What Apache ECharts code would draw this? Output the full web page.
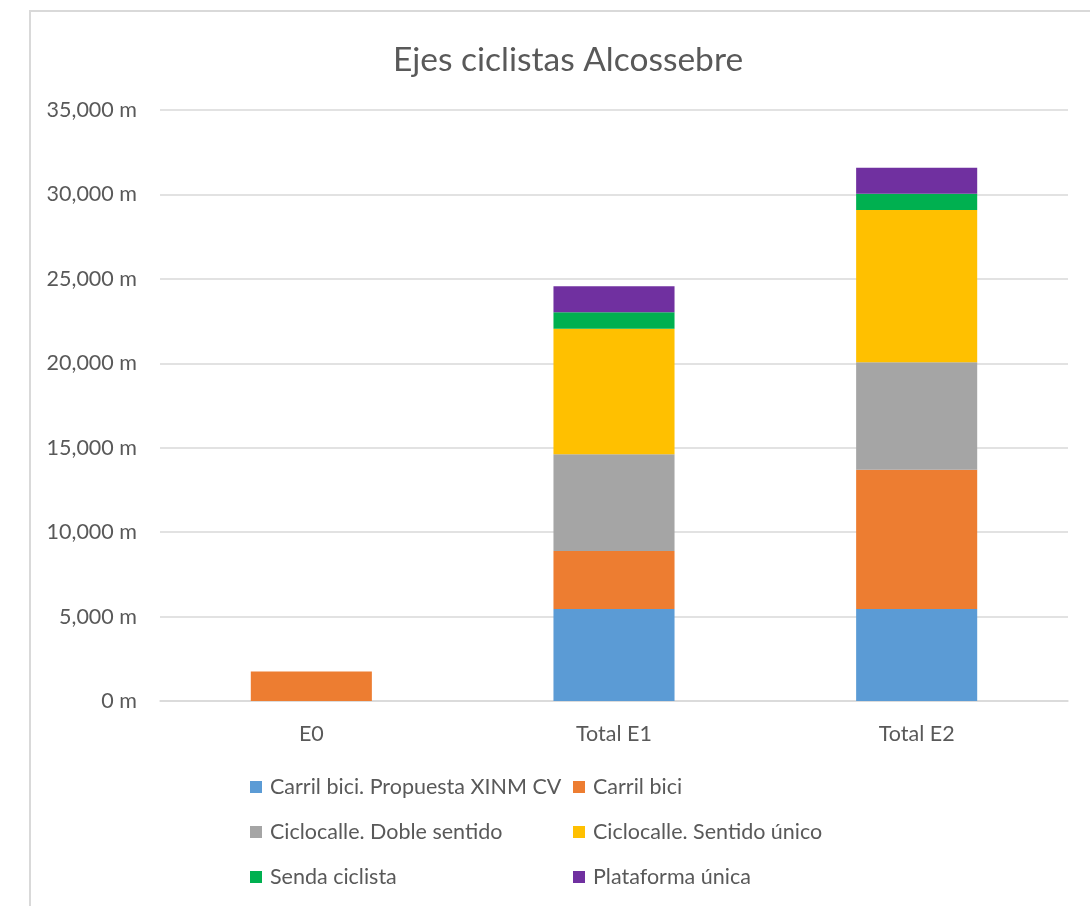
<!DOCTYPE html>
<html><head><meta charset="utf-8">
<script src="https://cdn.jsdelivr.net/npm/echarts@6/dist/echarts.min.js"></script>
<style>html,body{margin:0;padding:0;background:#fff}#c{width:1090px;height:906px}</style>
</head><body><div id="c"></div>
<script>
const categories = ['E0', 'Total E1', 'Total E2'];
const seriesNames = ['Carril bici. Propuesta XINM CV', 'Carril bici', 'Ciclocalle. Doble sentido', 'Ciclocalle. Sentido único', 'Senda ciclista', 'Plataforma única'];
const carrilPropuesta = [null, 5444, 5444];
const carrilBici = [1740, 3432, 8254];
const dobleSentido = [null, 5734, 6362];
const sentidoUnico = [null, 7431, 9011];
const sendaCiclista = [null, 985, 975];
const plataformaUnica = [null, 1538, 1539];
const yTicks = [0, 5000, 10000, 15000, 20000, 25000, 30000, 35000];
const colors = ['#5B9BD5', '#ED7D31', '#A5A5A5', '#FFC000', '#00B050', '#7030A0'];
const values = [carrilPropuesta, carrilBici, dobleSentido, sentidoUnico, sendaCiclista, plataformaUnica];

const FONT = 'Lato';
const chart = echarts.init(document.getElementById('c'));
const legendCommon = {
  orient: 'vertical', itemWidth: 12, itemHeight: 12, itemGap: 23, icon: 'rect', padding: 0,
  textStyle: { color: '#595959', fontSize: 21.5, lineHeight: 21, fontFamily: FONT, padding: [0, 0, 0, 3] }
};
chart.setOption({
  animation: false,
  color: colors,
  title: {
    text: 'Ejes ciclistas Alcossebre', left: 563, top: 38, textAlign: 'center',
    textStyle: { color: '#595959', fontSize: 33.5, fontWeight: 'normal', fontFamily: FONT }
  },
  graphic: [{ type: 'rect', shape: { x: 30, y: 11, width: 1200, height: 1000 }, style: { fill: 'none', stroke: '#d9d9d9', lineWidth: 2 }, silent: true, z: -1 }],
  legend: [
    Object.assign({ left: 250, top: 776, data: [seriesNames[0], seriesNames[2], seriesNames[4]] }, legendCommon),
    Object.assign({ left: 573, top: 776, data: [seriesNames[1], seriesNames[3], seriesNames[5]] }, legendCommon)
  ],
  grid: { left: 160, right: 22, top: 110, bottom: 205, containLabel: false },
  xAxis: {
    type: 'category', data: categories,
    axisLine: { show: true, lineStyle: { color: '#d9d9d9', width: 1.5 } },
    axisTick: { show: false },
    axisLabel: { color: '#595959', fontSize: 21.5, fontFamily: FONT, margin: 22 }
  },
  yAxis: {
    type: 'value', min: yTicks[0], max: yTicks[yTicks.length - 1], interval: yTicks[1] - yTicks[0],
    axisLine: { show: false }, axisTick: { show: false },
    splitLine: { lineStyle: { color: '#d9d9d9', width: 1.5 } },
    axisLabel: {
      color: '#595959', fontSize: 21.5, fontFamily: FONT, margin: 23,
      formatter: v => v.toLocaleString('en-US') + ' m'
    }
  },
  series: seriesNames.map((n, i) => ({
    name: n, type: 'bar', stack: 'total', data: values[i],
    barWidth: '40%', itemStyle: { color: colors[i] }
  }))
});
</script></body></html>
